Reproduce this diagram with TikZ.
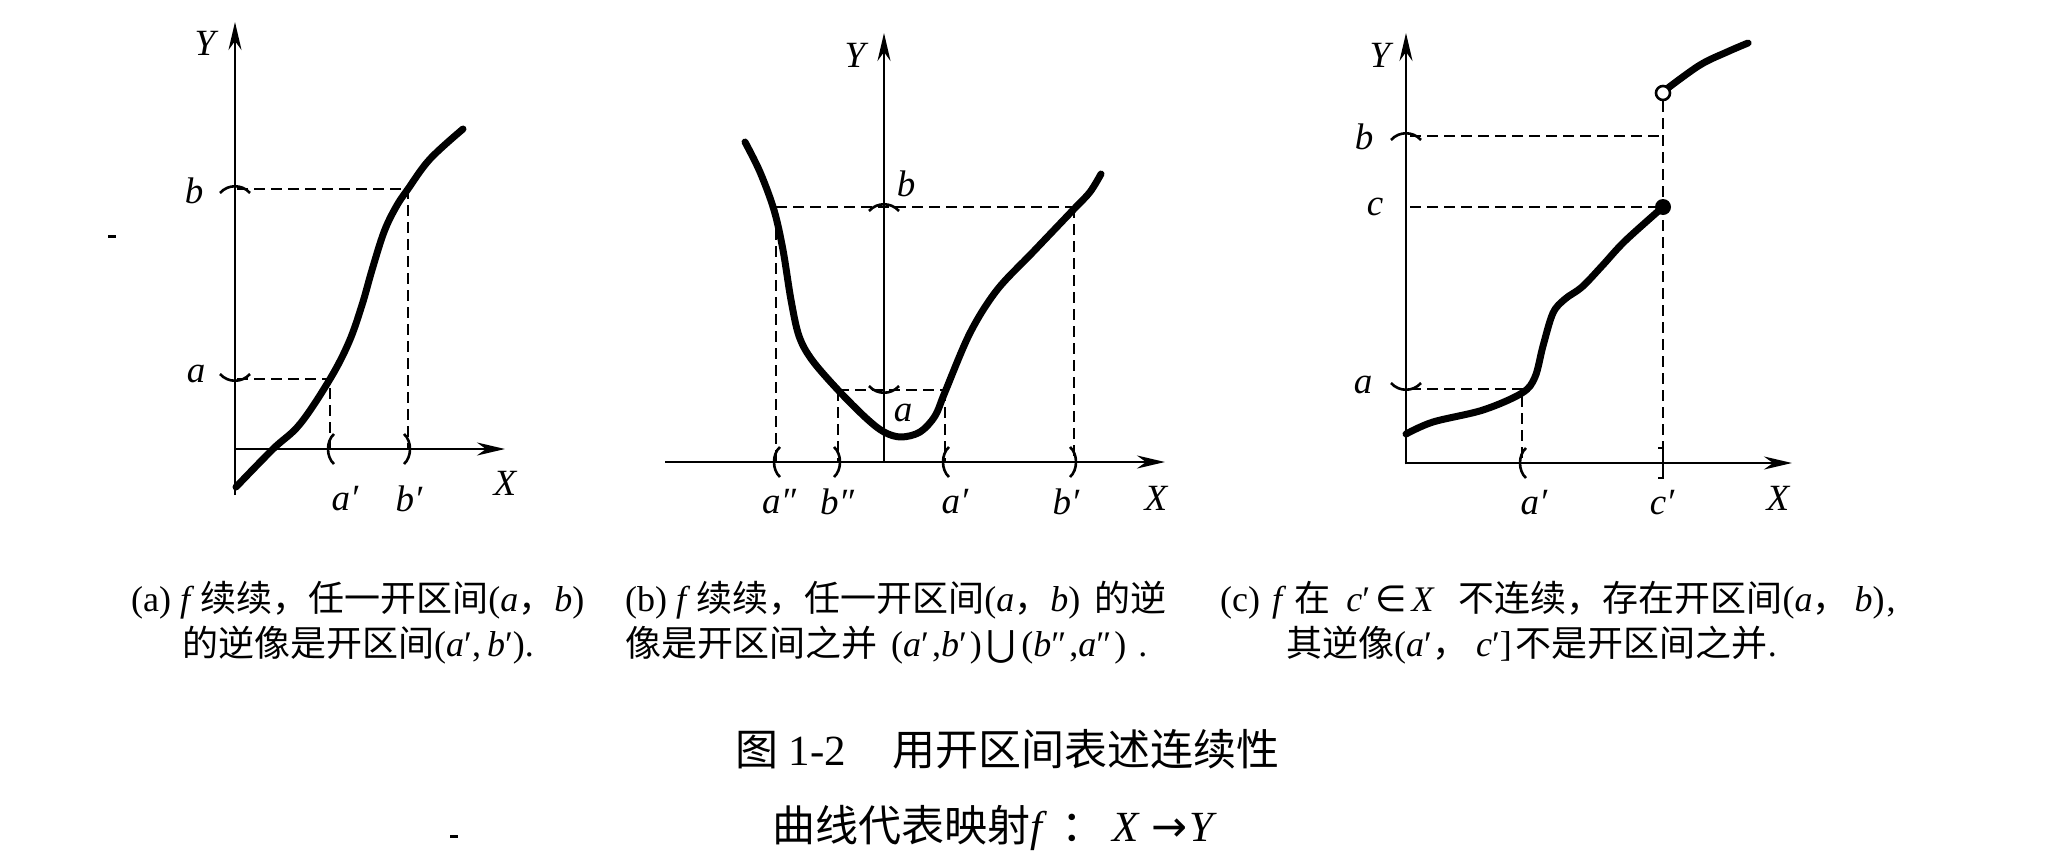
\documentclass[tikz,border=0pt]{standalone}
\usepackage{fontspec}
\setmainfont{Liberation Serif}
\newfontfamily\cjk{Noto Sans CJK SC}
\newfontfamily\sym{DejaVu Sans}
\usetikzlibrary{arrows.meta}
\newcommand\cj[1]{{\cjk #1}}
\newcommand\sy[1]{{\sym #1}}
\begin{document}
\begin{tikzpicture}[x=1pt,y=-1pt,
  axis/.style={line width=2.6pt,-{Stealth[length=28pt,width=13pt,inset=9pt]}},
  crv/.style={line width=7pt,line cap=round,line join=round},
  guide/.style={line width=1.8pt,dash pattern=on 11pt off 6pt},
  brk/.style={line width=2.6pt},
  lbl/.style={font=\fontsize{37}{40}\selectfont\itshape,inner sep=0pt},
  captxt/.style={font=\fontsize{36}{40}\selectfont,inner sep=0pt,anchor=west},
  ttl/.style={font=\fontsize{43}{48}\selectfont,inner sep=0pt,anchor=west},
  noise/.style={line width=3pt}]
\fill[white] (0,0) rectangle (2062,860);
\useasboundingbox (0,0) rectangle (2062,860);
% ---------- panel (a) ----------
\coordinate (aO) at (235,449);
\coordinate (aYb) at (235,495);
\coordinate (aYt) at (235,22);
\coordinate (aXt) at (505,449);
\coordinate (aPa) at (330,379);
\coordinate (aPb) at (408,189);
\coordinate (aYa) at (237,379);
\coordinate (aYbb) at (237,189);
\coordinate (aXa) at (330,449);
\coordinate (aXb) at (408,449);
\draw[guide] (aYbb) -- (aPb) -- (aXb);
\draw[guide] (aYa) -- (aPa) -- (aXa);
\draw[axis] (aYb) -- (aYt);
\draw[axis] (aO) -- (aXt);
\draw[crv] plot[smooth,tension=0.6] coordinates {(236,487) (273,449) (300,424) (330,379) (349,342) (362,305) (372,270) (384,232) (396,207) (408,189) (430,159) (463,129)};
\draw[brk] (220,193) .. controls (228,184) and (242,184) .. (250,193);
\draw[brk] (220,374) .. controls (228,383) and (242,383) .. (250,374);
\draw[brk] (334,434) .. controls (326,441) and (326,457) .. (334,464);
\draw[brk] (404,434) .. controls (412,441) and (412,457) .. (404,464);
\node[lbl] (aY) at (205,43) {Y};
\node[lbl] (ab) at (194,191) {b};
\node[lbl] (aa) at (196,374) {a};
\node[lbl] (aa1) at (345,499) {a′};
\node[lbl] (ab1) at (409,499) {b′};
\node[lbl] (aX) at (505,483) {X};
% ---------- panel (b) ----------
\coordinate (bXl) at (665,462);
\coordinate (bXt) at (1165,462);
\coordinate (bO) at (884,462);
\coordinate (bYt) at (884,33);
\draw[guide] (776,207) -- (1074,207);
\draw[guide] (776,212) -- (776,462);
\draw[guide] (1074,207) -- (1074,462);
\draw[guide] (838,390) -- (945,390);
\draw[guide] (838,390) -- (838,462);
\draw[guide] (945,390) -- (945,462);
\draw[axis] (bXl) -- (bXt);
\draw[axis] (bO) -- (bYt);
\draw[crv] plot[smooth,tension=0.55] coordinates {(745,142) (760,172) (774,210) (783,250) (791,300) (799,336) (812,360) (838,390) (866,418) (884,432) (901,437) (920,432) (935,416) (945,392) (970,333) (997,290) (1033,252) (1074,209) (1090,192) (1101,174)};
\draw[brk] (869,211) .. controls (877,202) and (891,202) .. (899,211);
\draw[brk] (869,386) .. controls (877,395) and (891,395) .. (899,386);
\draw[brk] (780,447) .. controls (772,454) and (772,470) .. (780,477);
\draw[brk] (834,447) .. controls (842,454) and (842,470) .. (834,477);
\draw[brk] (949,447) .. controls (941,454) and (941,470) .. (949,477);
\draw[brk] (1070,447) .. controls (1078,454) and (1078,470) .. (1070,477);
\node[lbl] (bY) at (855,55) {Y};
\node[lbl] (bb) at (906,184) {b};
\node[lbl] (ba) at (903,413) {a};
\node[lbl] (ba2) at (779,502) {a″};
\node[lbl] (bb2) at (837,502) {b″};
\node[lbl] (ba1) at (955,502) {a′};
\node[lbl] (bb1) at (1066,502) {b′};
\node[lbl] (bX) at (1156,498) {X};
% ---------- panel (c) ----------
\coordinate (cO) at (1406,463);
\coordinate (cYt) at (1406,33);
\coordinate (cXt) at (1792,463);
\coordinate (cOpen) at (1663,93);
\coordinate (cDot) at (1663,207);
\draw[guide] (1410,136) -- (1663,136);
\draw[guide] (1410,207) -- (cDot);
\draw[guide] (1410,389) -- (1522,389) -- (1522,463);
\draw[guide] (1663,101) -- (1663,463);
\draw[axis] (1406,464.3) -- (cYt);
\draw[axis] (1404.7,463) -- (cXt);
\draw[crv] plot[smooth,tension=0.55] coordinates {(1406,434) (1433,422) (1483,410) (1522,393) (1535,377) (1543,346) (1553,313) (1565,299) (1582,287) (1602,266) (1625,241) (1663,207)};
\draw[crv] plot[smooth,tension=0.6] coordinates {(1668,88) (1700,65) (1727,52) (1748,43)};
\fill (cDot) circle (8);
\draw[line width=2.6pt,fill=white] (cOpen) circle (7);
\draw[brk] (1391,140) .. controls (1399,131) and (1413,131) .. (1421,140);
\draw[brk] (1391,383) .. controls (1399,392) and (1413,392) .. (1421,383);
\draw[brk] (1526,448) .. controls (1518,455) and (1518,471) .. (1526,478);
\draw[brk] (1658,448) -- (1663,448) -- (1663,478) -- (1658,478);
\node[lbl] (cY) at (1380,55) {Y};
\node[lbl] (cb) at (1364,137) {b};
\node[lbl] (cc) at (1375,207) {c};
\node[lbl] (ca) at (1363,385) {a};
\node[lbl] (ca1) at (1534,503) {a′};
\node[lbl] (cc1) at (1662,503) {c′};
\node[lbl] (cX) at (1778,498) {X};
% ---------- captions ----------
\node[captxt] (capa1) at (131,600) {(a) \textit{f}\,\cj{续续，任一开区间}(\textit{a}\cj{，}\textit{b})};
\node[captxt] (capa2) at (182,645) {\cj{的逆像是开区间}(\textit{a}′,\,\textit{b}′).};
\node[captxt] (capb1) at (625,600) {(b) \textit{f}\,\cj{续续，任一开区间}(\textit{a}\cj{，}\textit{b})\hspace{14pt}\cj{的逆}};
\node[captxt] (capb2) at (625,645) {\cj{像是开区间之并}\hspace{14pt}(\textit{a}′\hspace{3pt},\textit{b}′\hspace{3pt})\hspace{5pt}\sy{⋃}\hspace{5pt}(\textit{b}″\hspace{3pt},\textit{a}″\hspace{3pt})\hspace{12pt}.};
\node[captxt] (capc1) at (1220,600) {(c)\hspace{12pt}\textit{f}\hspace{8pt}\cj{在}\hspace{16pt}\textit{c}′\hspace{5pt}\sy{∈}\hspace{5pt}\textit{X}\hspace{24pt}\cj{不连续，存在开区间}(\textit{a}\cj{，}\hspace{6pt}\textit{b})\hspace{2pt},};
\node[captxt] (capc2) at (1286,645) {\cj{其逆像}(\textit{a}′\cj{，}\hspace{8pt}\textit{c}′]\hspace{4pt}\cj{不是开区间之并}.};
\node[ttl] (t1) at (735,749) {\cj{图} 1-2\hspace{46pt}\cj{用开区间表述连续性}};
\node[ttl] (t2) at (772,828) {\cj{曲线代表映射}\textit{f}\hspace{14pt}\cj{：}\hspace{8pt}\textit{X}\hspace{12pt}\sy{→}\hspace{2pt}\textit{Y}};
% ---------- scan specks ----------
\draw[noise] (108,236) -- (116,236);
\draw[noise] (450,836) -- (458,836);
\end{tikzpicture}
\end{document}
